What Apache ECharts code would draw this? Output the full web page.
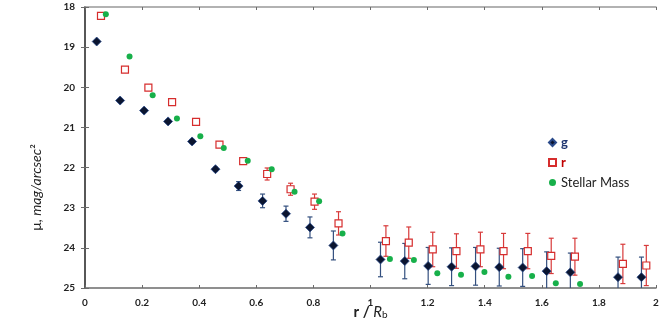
<!DOCTYPE html>
<html>
<head>
    <meta charset="utf-8">
    <title>Surface brightness profile</title>
    <script src="https://cdn.jsdelivr.net/npm/echarts@6/dist/echarts.min.js"></script>
    <style>
        body { margin: 0; background: #fff; }
        #chart { width: 664px; height: 324px; }
    </style>
</head>
<body>
    <div id="chart"></div>
    <script type="text/javascript">
        // g band: radius (r/Rb), surface brightness, error
        var gR   = [0.041, 0.123, 0.207, 0.291, 0.375, 0.457, 0.538, 0.622, 0.704, 0.788, 0.870, 1.035, 1.120, 1.202, 1.284, 1.368, 1.451, 1.533, 1.617, 1.700, 1.867, 1.949];
        var gMu  = [18.86, 20.33, 20.58, 20.85, 21.35, 22.04, 22.46, 22.83, 23.15, 23.49, 23.94, 24.29, 24.33, 24.45, 24.47, 24.46, 24.48, 24.49, 24.58, 24.61, 24.73, 24.73];
        var gErr = [0.02, 0.03, 0.03, 0.04, 0.05, 0.05, 0.11, 0.17, 0.19, 0.26, 0.36, 0.43, 0.44, 0.46, 0.47, 0.47, 0.47, 0.47, 0.48, 0.48, 0.50, 0.50];

        // r band
        var rR   = [0.056, 0.140, 0.222, 0.305, 0.389, 0.471, 0.554, 0.638, 0.720, 0.804, 0.888, 1.054, 1.134, 1.218, 1.301, 1.385, 1.466, 1.551, 1.633, 1.716, 1.884, 1.966];
        var rMu  = [18.22, 19.56, 20.01, 20.37, 20.86, 21.43, 21.84, 22.16, 22.54, 22.85, 23.39, 23.83, 23.87, 24.04, 24.08, 24.04, 24.08, 24.08, 24.20, 24.22, 24.40, 24.44];
        var rErr = [0.02, 0.03, 0.04, 0.05, 0.06, 0.06, 0.08, 0.15, 0.15, 0.19, 0.29, 0.38, 0.39, 0.43, 0.43, 0.43, 0.44, 0.44, 0.44, 0.46, 0.49, 0.50];

        // stellar mass profile
        var mR  = [0.073, 0.156, 0.237, 0.322, 0.404, 0.486, 0.570, 0.654, 0.734, 0.820, 0.902, 1.068, 1.152, 1.234, 1.317, 1.399, 1.483, 1.566, 1.649, 1.734];
        var mMu = [18.18, 19.23, 20.20, 20.78, 21.22, 21.51, 21.83, 22.04, 22.60, 22.84, 23.64, 24.28, 24.30, 24.63, 24.67, 24.60, 24.72, 24.70, 24.88, 24.90];

        var xTicks = ['0', '0.2', '0.4', '0.6', '0.8', '1', '1.2', '1.4', '1.6', '1.8', '2'];
        var yTicks = ['18', '19', '20', '21', '22', '23', '24', '25'];

        function zip(xs, ys) {
            return xs.map(function (x, i) { return [x, ys[i]]; });
        }
        function zipErr(xs, ys, es) {
            return xs.map(function (x, i) { return [x, ys[i] - es[i], ys[i] + es[i]]; });
        }

        // vertical error bar with caps
        function errorBar(color) {
            return function (params, api) {
                var lo = api.coord([api.value(0), api.value(1)]);
                var hi = api.coord([api.value(0), api.value(2)]);
                var w = 2.5;
                var style = { stroke: color, lineWidth: 1.2 };
                return {
                    type: 'group',
                    children: [
                        { type: 'line', shape: { x1: lo[0], y1: lo[1], x2: hi[0], y2: hi[1] }, style: style },
                        { type: 'line', shape: { x1: lo[0] - w, y1: lo[1], x2: lo[0] + w, y2: lo[1] }, style: style },
                        { type: 'line', shape: { x1: hi[0] - w, y1: hi[1], x2: hi[0] + w, y2: hi[1] }, style: style }
                    ]
                };
            };
        }

        var font = 'Lato, "DejaVu Sans", sans-serif';
        var axisColor = '#6b6b6b';

        var myChart = echarts.init(document.getElementById('chart'));
        var option = {
            animation: false,
            grid: { left: 85, right: 8, top: 7, bottom: 36, containLabel: false, outerBoundsMode: 'none' },
            legend: {
                orient: 'vertical',
                left: 543,
                top: 131,
                itemGap: 7,
                itemWidth: 7,
                itemHeight: 7,
                textStyle: { fontFamily: font, fontSize: 13, color: '#222' },
                data: [
                    { name: 'g', icon: 'diamond', textStyle: { color: '#1f3570', fontWeight: 'bold' } },
                    { name: 'r', icon: 'rect', textStyle: { color: '#c00000', fontWeight: 'bold' } },
                    { name: 'Stellar Mass', icon: 'circle' }
                ]
            },
            xAxis: [{
                type: 'value', min: 0, max: 2, interval: 0.2,
                name: '{n|r / }{i|R}{s|b}',
                nameLocation: 'middle',
                nameGap: 16,
                nameMoveOverlap: false,
                nameTextStyle: {
                    rich: {
                        n: { fontFamily: font, fontSize: 15, fontWeight: 'bold', color: '#222' },
                        i: { fontFamily: font, fontSize: 15, fontStyle: 'italic', color: '#222' },
                        s: { fontFamily: font, fontSize: 10, color: '#222', verticalAlign: 'bottom', padding: [6, 0, 0, 0] }
                    }
                },
                axisLine: { lineStyle: { color: axisColor, width: 1.5 } },
                axisTick: { inside: true, length: 3, lineStyle: { color: axisColor } },
                axisLabel: {
                    margin: 10, fontFamily: font, fontSize: 10, fontWeight: 'bold', color: '#222',
                    formatter: function (v) { return xTicks[Math.round(v / 0.2)]; }
                },
                splitLine: { show: false }
            }, {
                type: 'value', min: 0, max: 2, interval: 0.2, position: 'top',
                axisLine: { lineStyle: { color: '#999', width: 1.5 } },
                axisTick: { inside: true, length: 3, lineStyle: { color: axisColor } },
                axisLabel: { show: false },
                splitLine: { show: false }
            }],
            yAxis: [{
                type: 'value', min: 18, max: 25, interval: 1, inverse: true,
                name: '{n|μ, }{i|mag/arcsec}{n|²}',
                nameLocation: 'middle',
                nameGap: 42,
                nameRotate: 90,
                nameMoveOverlap: false,
                nameTextStyle: {
                    padding: [0, 80, 0, 0],
                    rich: {
                        n: { fontFamily: font, fontSize: 14, color: '#222' },
                        i: { fontFamily: font, fontSize: 14, fontStyle: 'italic', color: '#222' }
                    }
                },
                axisLine: { lineStyle: { color: axisColor, width: 1.5 } },
                axisTick: { inside: true, length: 4, lineStyle: { color: axisColor } },
                axisLabel: {
                    margin: 10, fontFamily: font, fontSize: 10, fontWeight: 'bold', color: '#222',
                    formatter: function (v) { return yTicks[v - 18]; }
                },
                splitLine: { show: false }
            }, {
                type: 'value', min: 18, max: 25, interval: 1, inverse: true, position: 'right',
                axisLine: { show: true, lineStyle: { color: '#444', width: 1.5 } },
                axisTick: { show: true, inside: true, length: 4, lineStyle: { color: axisColor } },
                axisLabel: { show: false },
                splitLine: { show: false }
            }],
            series: [
                {
                    name: 'g-err', type: 'custom', clip: true, silent: true,
                    renderItem: errorBar('#34507f'),
                    encode: { x: 0, y: [1, 2] },
                    data: zipErr(gR, gMu, gErr), z: 1
                },
                {
                    name: 'r-err', type: 'custom', clip: true, silent: true,
                    renderItem: errorBar('#d83a3a'),
                    encode: { x: 0, y: [1, 2] },
                    data: zipErr(rR, rMu, rErr), z: 1
                },
                {
                    name: 'g', type: 'scatter', symbol: 'diamond', symbolSize: 9,
                    itemStyle: { color: '#0b1530', borderColor: '#2a4a8a', borderWidth: 0.8, opacity: 1 },
                    data: zip(gR, gMu), z: 3
                },
                {
                    name: 'r', type: 'scatter', symbol: 'rect', symbolSize: 7,
                    itemStyle: { color: '#fff', borderColor: '#d62d2d', borderWidth: 1.2, opacity: 1 },
                    data: zip(rR, rMu), z: 3
                },
                {
                    name: 'Stellar Mass', type: 'scatter', symbol: 'circle', symbolSize: 6,
                    itemStyle: { color: '#17b04a', opacity: 1 },
                    data: zip(mR, mMu), z: 4
                }
            ]
        };
        myChart.setOption(option);
    </script>
</body>
</html>
